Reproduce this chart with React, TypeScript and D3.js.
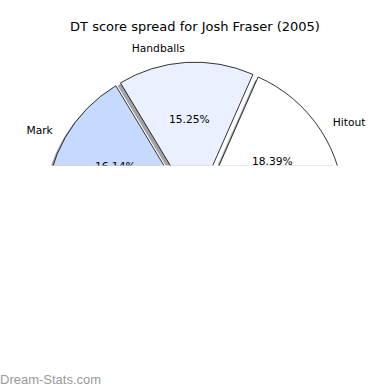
import React from "react";
import * as d3 from "d3";

const title = "DT score spread for Josh Fraser (2005)";
const categories = ["Hitout", "Handballs", "Mark", "Kick", "Tackle", "Goal", "Behind"];
const shares = [18.39, 15.25, 16.14, 30.0, 9.5, 8.5, 2.22];
const colors = ["#ffffff", "#eaf0ff", "#c6d9ff", "#9fbfff", "#7aa5f5", "#5a8ae0", "#3c6cc8"];
const watermark = "Dream-Stats.com";

const W = 390;
const H = 390;
const cx = 195.2;
const cy = 211.9;
const R = 144;
const explode = 0.04;
const clipY = 165.5;

function shade(c: string) {
  const rgb = d3.rgb(c);
  return d3.rgb(rgb.r * 0.3, rgb.g * 0.3, rgb.b * 0.3).formatHex();
}

export default function App() {
  const pie = d3
    .pie<number>()
    .sort(null)
    .startAngle(Math.PI / 2)
    .endAngle(Math.PI / 2 - 2 * Math.PI);
  const arcs = pie(shares);
  const arcGen = d3.arc<d3.PieArcDatum<number>>().innerRadius(0).outerRadius(R);
  const so = 0.02 * R;

  const items = arcs.map((a, i) => {
    const mid = (a.startAngle + a.endAngle) / 2;
    const ux = Math.sin(mid);
    const uy = -Math.cos(mid);
    const ox = cx + explode * R * ux;
    const oy = cy + explode * R * uy;
    return { a, i, ux, uy, ox, oy, d: arcGen(a) as string };
  });

  return (
    <svg width={W} height={H} style={{ position: "absolute", left: 0, top: 0, background: "#fff" }}>
      <defs>
        <clipPath id="cut">
          <rect x={0} y={0} width={W} height={clipY} />
        </clipPath>
      </defs>
      <text
        x={195}
        y={30.5}
        textAnchor="middle"
        fontFamily="DejaVu Sans"
        fontSize={13}
        fill="#000"
      >
        {title}
      </text>
      <g clipPath="url(#cut)">
        {items.map((it) => (
          <path
            key={"s" + it.i}
            d={it.d}
            transform={`translate(${it.ox - so},${it.oy + so})`}
            fill={shade(colors[it.i])}
            fillOpacity={0.5}
            stroke="none"
          />
        ))}
        {items.map((it) => (
          <path
            key={"w" + it.i}
            d={it.d}
            transform={`translate(${it.ox},${it.oy})`}
            fill={colors[it.i]}
            stroke="#000"
            strokeWidth={0.8}
          />
        ))}
        {items
          .filter((it) => it.oy + 0.6 * R * it.uy - 6 < clipY)
          .map((it) => (
            <text
              key={"p" + it.i}
              x={it.ox + 0.6 * R * it.ux}
              y={it.oy + 0.6 * R * it.uy}
              textAnchor="middle"
              dominantBaseline="central"
              fontFamily="DejaVu Sans"
              fontSize={10.7}
              fill="#000"
            >
              {shares[it.i].toFixed(2) + "%"}
            </text>
          ))}
        {items
          .filter((it) => it.oy + 1.1 * R * it.uy < clipY)
          .map((it) => (
            <text
              key={"l" + it.i}
              x={it.ox + 1.1 * R * it.ux}
              y={it.oy + 1.1 * R * it.uy}
              textAnchor={it.ux < 0 ? "end" : "start"}
              dominantBaseline="central"
              fontFamily="DejaVu Sans"
              fontSize={10.7}
              fill="#000"
            >
              {categories[it.i]}
            </text>
          ))}
      </g>
      <text x={0} y={384} fontFamily="Liberation Sans" fontSize={13} fill="#999">
        {watermark}
      </text>
    </svg>
  );
}
